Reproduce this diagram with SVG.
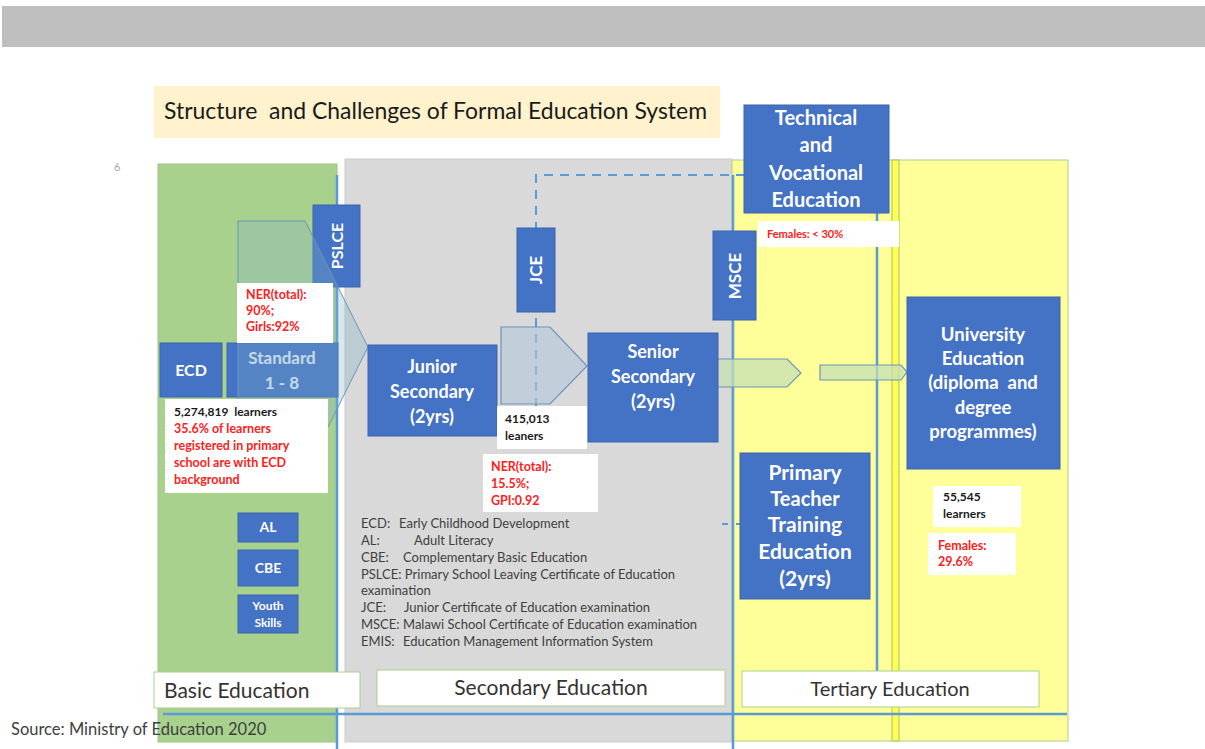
<svg xmlns="http://www.w3.org/2000/svg" width="1205" height="749" viewBox="0 0 1205 749">
<style>
text{white-space:pre}
.node{fill:#4472c4;stroke:#3a64ad;stroke-width:1}
.nt{font-family:Lato,"Open Sans",sans-serif;font-weight:bold;fill:#ffffff;text-anchor:middle}
.lbl{fill:#ffffff}
.red{font-family:Lato,"Open Sans",sans-serif;font-weight:bold;font-size:12.5px;fill:#ff2020}
.blk{font-family:Lato,"Open Sans",sans-serif;font-weight:bold;font-size:12px;fill:#1a1a1a}
.leg{font-family:Lato,"Open Sans",sans-serif;font-size:13px;fill:#404040}
.sec{font-family:Lato,"Open Sans",sans-serif;font-size:21px;fill:#333333}
.bl{stroke:#5b9bd5;stroke-width:2.5;fill:none}
.arr{stroke:#6f93b8;stroke-width:1.2}
</style>
<rect x="2" y="6" width="1203" height="41" fill="#bfbfbf"/>
<g id="title">
<rect x="154" y="86" width="566" height="52" fill="#fff2cc"/>
<text x="164" y="119" font-family="Lato,'Open Sans',sans-serif" font-size="23" fill="#1a1a1a" textLength="543" lengthAdjust="spacingAndGlyphs">Structure  and Challenges of Formal Education System</text>
</g>
<text x="114" y="171" font-family="Lato,sans-serif" font-size="11" fill="#a6a6a6">6</text>
<g id="panels">
<rect x="158" y="164" width="179" height="578" fill="#a9d18e" stroke="#9cc283"/>
<rect x="345" y="159" width="387" height="583" fill="#d9d9d9" stroke="#cccccc"/>
<rect x="732" y="160" width="336" height="581" fill="#ffff99" stroke="#a9d18e"/>
<rect x="892" y="160" width="7" height="581" fill="#ffff55" stroke="#a9c06e" stroke-width="1"/>
</g>
<g id="connectors">
<line class="bl" x1="337" y1="175" x2="337" y2="749"/>
<line class="bl" x1="733" y1="175" x2="733" y2="749"/>
<line class="bl" x1="877" y1="213" x2="877" y2="671"/>
<line class="bl" x1="163" y1="714" x2="1067" y2="714"/>
<polyline points="536,407 536,175 745,175" fill="none" stroke="#5b9bd5" stroke-width="2" stroke-dasharray="9,7"/>
<line x1="722" y1="524" x2="740" y2="524" stroke="#5b9bd5" stroke-width="2" stroke-dasharray="6,8"/>
<polygon class="arr" points="501,327 550,327 587,366 550,404 501,404" fill="#b3c6d9" fill-opacity="0.6"/>
<polygon class="arr" points="717,359 787,359 801,373 787,387 717,387" fill="#c5e0b4" fill-opacity="0.75"/>
<polygon class="arr" points="820,365 901,365 907,372 901,380 820,380" fill="#c5e0b4" fill-opacity="0.75"/>
</g>
<g id="ecd"><rect class="node" x="160" y="343" width="62" height="54"/><text class="nt" x="191" y="376" font-size="16">ECD</text></g>
<g id="standard"><rect class="node" x="227" y="343" width="111" height="54"/><text class="nt" x="282" y="364" font-size="17" style="fill:#e4eaf4">Standard</text><text class="nt" x="282" y="389" font-size="17" style="fill:#e4eaf4">1 - 8</text></g>
<g id="pslce"><rect class="node" x="313" y="205" width="47" height="82"/><text class="nt" transform="translate(343,246) rotate(-90)" font-size="16">PSLCE</text></g>
<g id="primary-flow"><polygon points="238,221 305,221 368,347 305,473 238,473" fill="#7fb0c8" fill-opacity="0.3" stroke="#6f93b8" stroke-width="1"/></g>
<g id="ner-primary"><rect class="lbl" x="237" y="283" width="96" height="60"/><text class="red" x="246" y="299">NER(total):</text><text class="red" x="246" y="315">90%;</text><text class="red" x="246" y="331">Girls:92%</text></g>
<g id="learners-primary"><rect class="lbl" x="165" y="399" width="163" height="94"/><text class="blk" x="174" y="416">5,274,819  learners</text><text class="red" x="174" y="433">35.6% of learners</text><text class="red" x="174" y="450">registered in primary</text><text class="red" x="174" y="467">school are with ECD</text><text class="red" x="174" y="484">background</text></g>
<g id="al"><rect class="node" x="238" y="513" width="60" height="29"/><text class="nt" x="268" y="532" font-size="14">AL</text></g>
<g id="cbe"><rect class="node" x="238" y="550" width="60" height="36"/><text class="nt" x="268" y="573" font-size="14">CBE</text></g>
<g id="youth"><rect class="node" x="238" y="595" width="60" height="38"/><text class="nt" x="268" y="610" font-size="12">Youth</text><text class="nt" x="268" y="627" font-size="12">Skills</text></g>
<g id="junior"><rect class="node" x="368" y="345" width="129" height="91"/><text class="nt" x="432" y="373" font-size="18">Junior</text><text class="nt" x="432" y="398" font-size="18">Secondary</text><text class="nt" x="432" y="423" font-size="18">(2yrs)</text></g>
<g id="jce"><rect class="node" x="517" y="228" width="38" height="84"/><text class="nt" transform="translate(542,270) rotate(-90)" font-size="17">JCE</text></g>
<g id="learners-sec"><rect class="lbl" x="497" y="406" width="90" height="43"/><text class="blk" x="505" y="423">415,013</text><text class="blk" x="505" y="440">leaners</text></g>
<g id="ner-sec"><rect class="lbl" x="483" y="454" width="115" height="58"/><text class="red" x="491" y="471">NER(total):</text><text class="red" x="491" y="488">15.5%;</text><text class="red" x="491" y="505">GPI:0.92</text></g>
<g id="senior"><rect class="node" x="588" y="333" width="130" height="109"/><text class="nt" x="653" y="358" font-size="18">Senior</text><text class="nt" x="653" y="383" font-size="18">Secondary</text><text class="nt" x="653" y="408" font-size="18">(2yrs)</text></g>
<g id="msce"><rect class="node" x="713" y="231" width="43" height="89"/><text class="nt" transform="translate(741,276) rotate(-90)" font-size="17">MSCE</text></g>
<g id="tve"><rect class="node" x="744" y="105" width="145" height="108"/><text class="nt" x="816" y="125" font-size="20">Technical</text><text class="nt" x="816" y="152" font-size="20">and</text><text class="nt" x="816" y="180" font-size="20">Vocational</text><text class="nt" x="816" y="207" font-size="20">Education</text></g>
<g id="tve-females"><rect class="lbl" x="758" y="221" width="141" height="26"/><text class="red" x="767" y="238" style="font-size:11px">Females: &lt; 30%</text></g>
<g id="ptte"><rect class="node" x="740" y="453" width="130" height="146"/><text class="nt" x="805" y="480" font-size="21">Primary</text><text class="nt" x="805" y="506" font-size="20">Teacher</text><text class="nt" x="805" y="532" font-size="21">Training</text><text class="nt" x="805" y="559" font-size="21">Education</text><text class="nt" x="805" y="586" font-size="21">(2yrs)</text></g>
<g id="university"><rect class="node" x="907" y="297" width="153" height="172"/><text class="nt" x="983" y="341" font-size="18.5">University</text><text class="nt" x="983" y="365" font-size="18.5">Education</text><text class="nt" x="983" y="389" font-size="18.5">(diploma  and</text><text class="nt" x="983" y="414" font-size="18.5">degree</text><text class="nt" x="983" y="438" font-size="18.5">programmes)</text></g>
<g id="uni-learners"><rect class="lbl" x="933" y="486" width="88" height="41"/><text class="blk" x="943" y="501">55,545</text><text class="blk" x="943" y="518">learners</text></g>
<g id="uni-females"><rect class="lbl" x="928" y="533" width="88" height="42"/><text class="red" x="938" y="550">Females:</text><text class="red" x="938" y="566">29.6%</text></g>
<g id="legend">
<text class="leg" x="361" y="528">ECD:<tspan x="399">Early Childhood Development</tspan></text>
<text class="leg" x="361" y="545">AL:<tspan x="414">Adult Literacy</tspan></text>
<text class="leg" x="361" y="562">CBE:<tspan x="403">Complementary Basic Education</tspan></text>
<text class="leg" x="361" y="579">PSLCE: Primary School Leaving Certificate of Education</text>
<text class="leg" x="361" y="595">examination</text>
<text class="leg" x="361" y="612">JCE:<tspan x="404">Junior Certificate of Education examination</tspan></text>
<text class="leg" x="361" y="629">MSCE:<tspan x="403">Malawi School Certificate of Education examination</tspan></text>
<text class="leg" x="361" y="646">EMIS:<tspan x="403">Education Management Information System</tspan></text>
</g>
<g id="basic-label"><rect x="154" y="672" width="206" height="36" fill="#ffffff" stroke="#a9d18e"/><text class="sec" x="164" y="698">Basic Education</text></g>
<g id="secondary-label"><rect x="377" y="670" width="348" height="36" fill="#ffffff" stroke="#a9d18e"/><text class="sec" x="551" y="695" text-anchor="middle">Secondary Education</text></g>
<g id="tertiary-label"><rect x="742" y="671" width="297" height="36" fill="#ffffff" stroke="#a9d18e"/><text class="sec" x="890" y="696" text-anchor="middle" style="font-size:20px">Tertiary Education</text></g>
<text x="11" y="735" font-family="Lato,'Open Sans',sans-serif" font-size="16.5" fill="#404040">Source: Ministry of Education 2020</text>
</svg>
